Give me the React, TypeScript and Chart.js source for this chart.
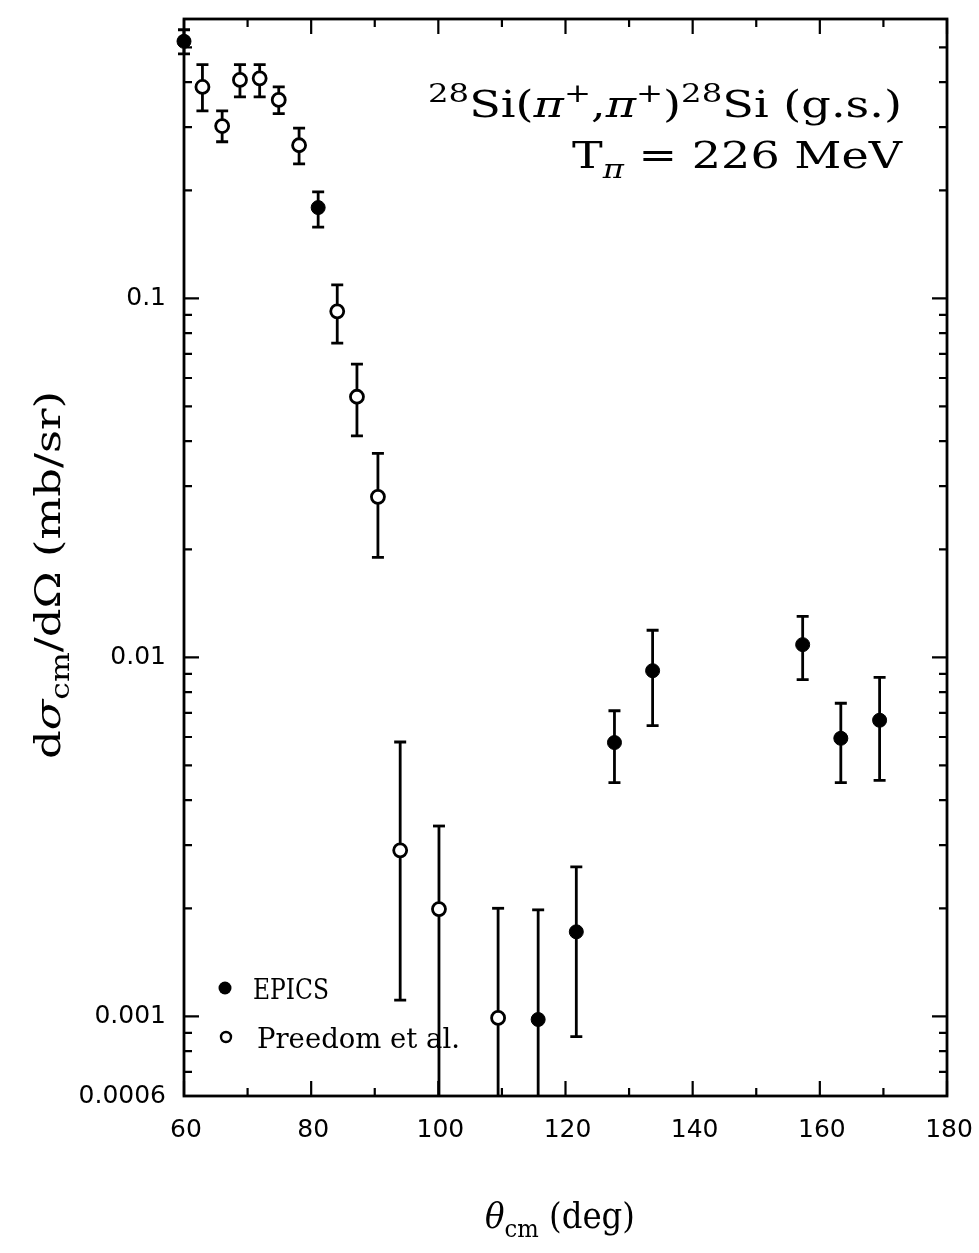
import React, { useEffect, useRef } from "react";
import { Chart, registerables } from "chart.js";

Chart.register(...registerables);

// ---- Data ----
const epicsAngle = [60.0, 81.1, 115.7, 121.7, 127.7, 133.7, 157.3, 163.3, 169.4];
const epicsXs = [0.52, 0.179, 0.00098, 0.00172, 0.00579, 0.00918, 0.01085, 0.00595, 0.00668];
const epicsLo = [0.48, 0.158, 0.0004, 0.000878, 0.00448, 0.00645, 0.00867, 0.00448, 0.00454];
const epicsHi = [0.56, 0.198, 0.00198, 0.00261, 0.0071, 0.0119, 0.013, 0.00745, 0.0088];

const preedomAngle = [62.9, 66.0, 68.8, 71.9, 74.9, 78.1, 84.1, 87.2, 90.5, 94.0, 100.1, 109.4];
const preedomXs = [0.388, 0.302, 0.406, 0.41, 0.357, 0.267, 0.092, 0.0532, 0.028, 0.0029, 0.00199, 0.00099];
const preedomLo = [0.333, 0.273, 0.364, 0.364, 0.327, 0.237, 0.075, 0.0414, 0.019, 0.00111, 0.0004, 0.0004];
const preedomHi = [0.448, 0.333, 0.448, 0.448, 0.388, 0.298, 0.109, 0.0656, 0.037, 0.00581, 0.00339, 0.002];

const xMajorTicks = [60, 80, 100, 120, 140, 160, 180];
const xTickText = ["60", "80", "100", "120", "140", "160", "180"];
const xMinorTicks = [70, 90, 110, 130, 150, 170];
const yLabelTicks = [0.0006, 0.001, 0.01, 0.1];
const yLabelText = ["0.0006", "0.001", "0.01", "0.1"];
const yMajorTicks = [0.001, 0.01, 0.1];
const yMinorTicks = [
  0.0006, 0.0007, 0.0008, 0.0009,
  0.002, 0.003, 0.004, 0.005, 0.006, 0.007, 0.008, 0.009,
  0.02, 0.03, 0.04, 0.05, 0.06, 0.07, 0.08, 0.09,
  0.2, 0.3, 0.4, 0.5,
];

const seriesNames = ["EPICS", "Preedom et al."];

// ---- Rich text helper ----
type Seg = { t: string; sub?: boolean; sup?: boolean; it?: boolean };
const SERIF = '"DejaVu Serif", serif';
const SANS = '"DejaVu Sans", sans-serif';

function segFont(s: Seg, size: number) {
  const sz = s.sub || s.sup ? size * 0.7 : size;
  return `${s.it ? "italic " : ""}${sz}px ${SERIF}`;
}
function richWidth(ctx: CanvasRenderingContext2D, segs: Seg[], size: number) {
  let w = 0;
  for (const s of segs) {
    ctx.font = segFont(s, size);
    w += ctx.measureText(s.t).width;
  }
  return w;
}
// draws rich text; if targetW given, the run is stretched horizontally to that width
function drawRich(
  ctx: CanvasRenderingContext2D,
  segs: Seg[],
  x: number,
  y: number,
  size: number,
  align: "left" | "right" | "center",
  targetW?: number
) {
  const w = richWidth(ctx, segs, size);
  const sx = targetW ? targetW / w : 1;
  const W = w * sx;
  const start = align === "left" ? x : align === "right" ? x - W : x - W / 2;
  ctx.save();
  ctx.translate(start, y);
  ctx.scale(sx, 1);
  ctx.textBaseline = "alphabetic";
  ctx.textAlign = "left";
  let cx = 0;
  for (const s of segs) {
    ctx.font = segFont(s, size);
    const dy = s.sub ? size * 0.25 : s.sup ? -size * 0.4 : 0;
    ctx.fillText(s.t, cx, dy);
    cx += ctx.measureText(s.t).width;
  }
  ctx.restore();
}

const title1: Seg[] = [
  { t: "28", sup: true }, { t: "Si(" }, { t: "π", it: true }, { t: "+", sup: true }, { t: "," },
  { t: "π", it: true }, { t: "+", sup: true }, { t: ")" }, { t: "28", sup: true }, { t: "Si (g.s.)" },
];
const title2: Seg[] = [{ t: "T" }, { t: "π", sub: true, it: true }, { t: " = 226 MeV" }];
const yTitle: Seg[] = [{ t: "d" }, { t: "σ", it: true }, { t: "cm", sub: true }, { t: "/d" }, { t: "Ω" }, { t: " (mb/sr)" }];
const xTitle: Seg[] = [{ t: "θ", it: true }, { t: "cm", sub: true }, { t: " (deg)" }];

const errorBarPlugin = {
  id: "errorBars",
  beforeDatasetsDraw(chart: any) {
    const { ctx, chartArea } = chart;
    const xs = chart.scales.x;
    const ys = chart.scales.y;
    ctx.save();
    ctx.strokeStyle = "#000";
    ctx.lineWidth = 2.8;
    chart.data.datasets.forEach((ds: any) => {
      ds.data.forEach((p: any, i: number) => {
        const px = xs.getPixelForValue(p.x);
        let yl = ys.getPixelForValue(ds.errLo[i]);
        const yh = ys.getPixelForValue(ds.errHi[i]);
        const loIn = yl <= chartArea.bottom;
        if (!loIn) yl = chartArea.bottom;
        ctx.beginPath();
        ctx.moveTo(px, yl);
        ctx.lineTo(px, yh);
        ctx.stroke();
        ctx.beginPath();
        ctx.moveTo(px - 6, yh);
        ctx.lineTo(px + 6, yh);
        if (loIn) {
          ctx.moveTo(px - 6, yl);
          ctx.lineTo(px + 6, yl);
        }
        ctx.stroke();
      });
    });
    ctx.restore();
  },
};

const framePlugin = {
  id: "frame",
  afterDraw(chart: any) {
    const { ctx, chartArea } = chart;
    const { left, right, top, bottom } = chartArea;
    const xs = chart.scales.x;
    const ys = chart.scales.y;
    ctx.save();
    ctx.strokeStyle = "#000";
    ctx.lineWidth = 2.8;
    ctx.strokeRect(left, top, right - left, bottom - top);
    ctx.lineWidth = 2.2;
    ctx.beginPath();
    const xt = (v: number, len: number) => {
      const p = xs.getPixelForValue(v);
      ctx.moveTo(p, bottom);
      ctx.lineTo(p, bottom - len);
      ctx.moveTo(p, top);
      ctx.lineTo(p, top + len);
    };
    xMajorTicks.forEach((v) => xt(v, 15));
    xMinorTicks.forEach((v) => xt(v, 8));
    const yt = (v: number, len: number) => {
      const p = ys.getPixelForValue(v);
      ctx.moveTo(left, p);
      ctx.lineTo(left + len, p);
      ctx.moveTo(right, p);
      ctx.lineTo(right - len, p);
    };
    yMajorTicks.forEach((v) => yt(v, 15));
    yMinorTicks.forEach((v) => yt(v, 8));
    ctx.stroke();

    ctx.fillStyle = "#000";
    // tick labels
    ctx.font = `25px ${SANS}`;
    ctx.textAlign = "center";
    ctx.textBaseline = "middle";
    xMajorTicks.forEach((v, i) => ctx.fillText(xTickText[i], xs.getPixelForValue(v) + 2, 1130));
    ctx.textAlign = "right";
    yLabelTicks.forEach((v, i) => ctx.fillText(yLabelText[i], 166, ys.getPixelForValue(v)));

    // annotation
    drawRich(ctx, title1, 902, 117, 38, "right", 474);
    drawRich(ctx, title2, 902, 168, 38, "right", 330);
    // axis titles
    drawRich(ctx, xTitle, 560, 1228, 35, "center", 150);
    ctx.save();
    ctx.translate(60, 575);
    ctx.rotate(-Math.PI / 2);
    drawRich(ctx, yTitle, 0, 0, 36, "center", 368);
    ctx.restore();

    // legend
    ctx.beginPath();
    ctx.arc(225, 988, 6.5, 0, Math.PI * 2);
    ctx.fill();
    ctx.beginPath();
    ctx.lineWidth = 2.4;
    ctx.arc(226, 1037, 5, 0, Math.PI * 2);
    ctx.stroke();
    drawRich(ctx, [{ t: seriesNames[0] }], 253, 999, 27, "left", 76);
    drawRich(ctx, [{ t: seriesNames[1] }], 257, 1048, 27, "left", 203);
    ctx.restore();
  },
};

export default function App() {
  const ref = useRef<HTMLCanvasElement>(null);
  useEffect(() => {
    document.body.style.margin = "0";
    const chart = new Chart(ref.current as HTMLCanvasElement, {
      type: "scatter",
      data: {
        datasets: [
          {
            label: seriesNames[0],
            data: epicsAngle.map((x, i) => ({ x, y: epicsXs[i] })),
            errLo: epicsLo,
            errHi: epicsHi,
            pointRadius: 7,
            pointBackgroundColor: "#000",
            pointBorderColor: "#000",
            pointBorderWidth: 1,
            clip: false,
          } as any,
          {
            label: seriesNames[1],
            data: preedomAngle.map((x, i) => ({ x, y: preedomXs[i] })),
            errLo: preedomLo,
            errHi: preedomHi,
            pointRadius: 6.5,
            pointBackgroundColor: "#fff",
            pointBorderColor: "#000",
            pointBorderWidth: 2.8,
            clip: false,
          } as any,
        ],
      },
      options: {
        responsive: false,
        animation: false,
        events: [],
        layout: { padding: { left: 0, right: 32, top: 19, bottom: 0 } },
        plugins: { legend: { display: false }, tooltip: { enabled: false } },
        scales: {
          x: {
            type: "linear",
            min: 60,
            max: 180,
            afterFit: (s: any) => {
              s.height = 157;
            },
            ticks: { display: false },
            grid: { display: false, drawTicks: false },
            border: { display: false },
          },
          y: {
            type: "logarithmic",
            min: 0.0006,
            max: 0.6,
            afterFit: (s: any) => {
              s.width = 184;
            },
            ticks: { display: false },
            grid: { display: false, drawTicks: false },
            border: { display: false },
          },
        },
      },
      plugins: [errorBarPlugin, framePlugin],
    });
    return () => chart.destroy();
  }, []);
  return <canvas ref={ref} width={979} height={1253} style={{ display: "block" }} />;
}
